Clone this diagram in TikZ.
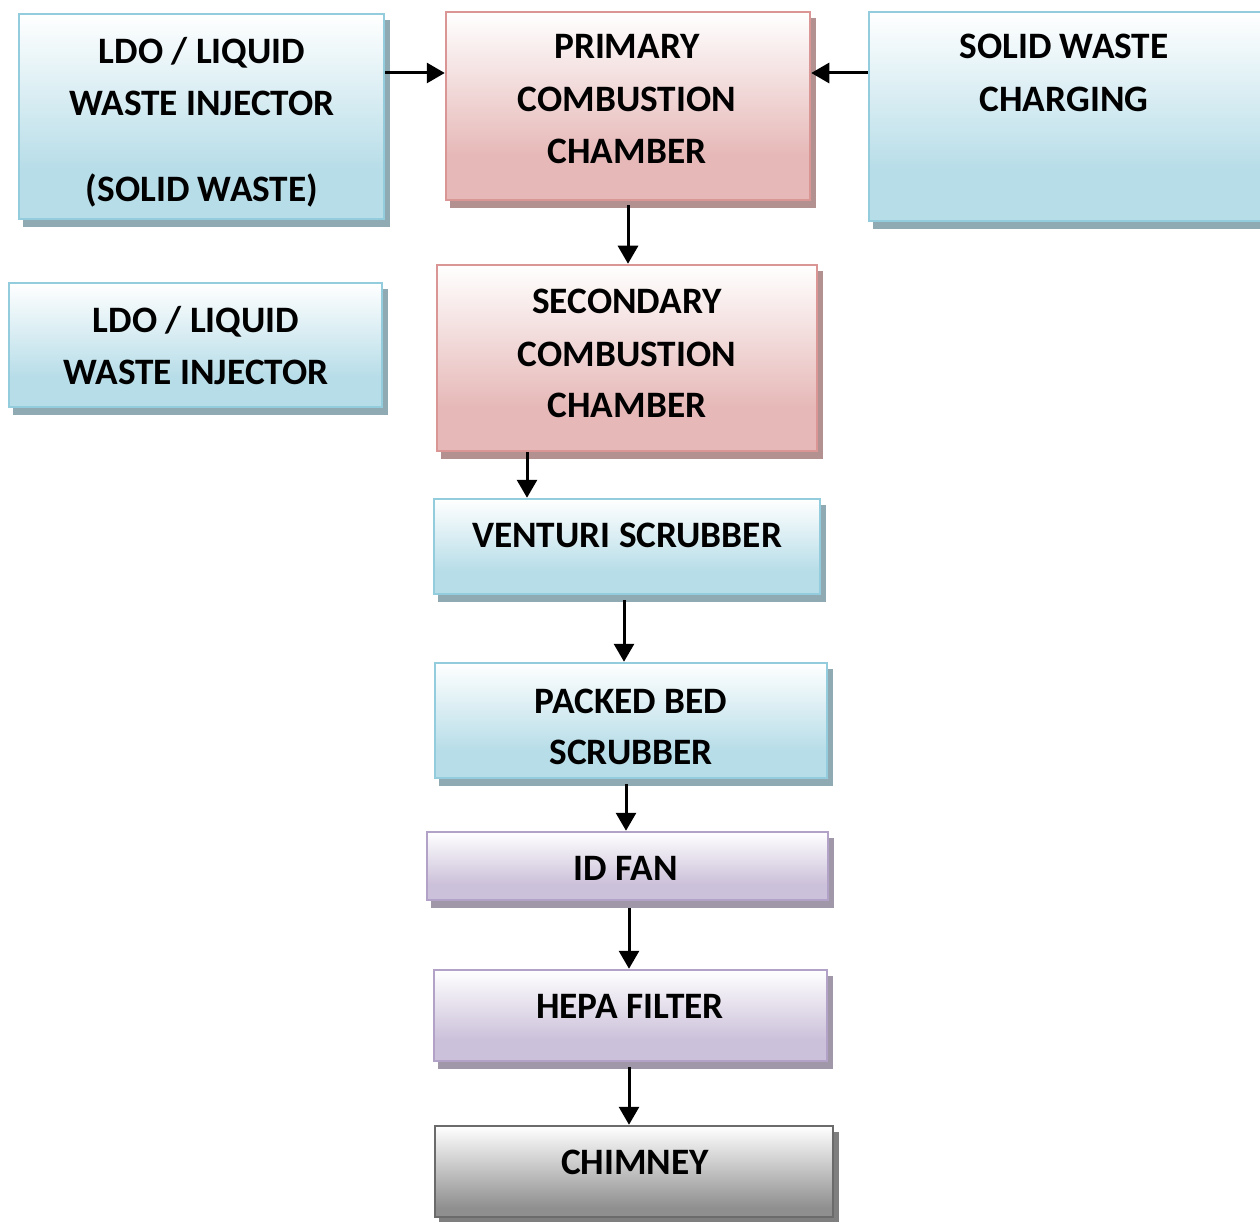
\documentclass[tikz,border=0pt]{standalone}
\usepackage{fontspec}
\setmainfont{Carlito}
\usetikzlibrary{arrows.meta,backgrounds}
\definecolor{bluebd}{HTML}{93CDDD}
\definecolor{bluebot}{HTML}{B7DDE8}
\definecolor{bluesh}{HTML}{8FAAB3}
\definecolor{redbd}{HTML}{D99694}
\definecolor{redbot}{HTML}{E6B9B8}
\definecolor{redsh}{HTML}{B39190}
\definecolor{purbd}{HTML}{B3A2C7}
\definecolor{purbot}{HTML}{CCC1DA}
\definecolor{pursh}{HTML}{A098A8}
\definecolor{graybd}{HTML}{6B6B6B}
\definecolor{graybot}{HTML}{8F8F8F}
\definecolor{graysh}{HTML}{7F7F7F}
\pgfdeclareverticalshading{blueshade}{100bp}{color(0bp)=(bluebot); color(37bp)=(bluebot); color(75bp)=(white); color(100bp)=(white)}
\pgfdeclareverticalshading{redshade}{100bp}{color(0bp)=(redbot); color(37bp)=(redbot); color(75bp)=(white); color(100bp)=(white)}
\pgfdeclareverticalshading{purshade}{100bp}{color(0bp)=(purbot); color(37bp)=(purbot); color(75bp)=(white); color(100bp)=(white)}
\pgfdeclareverticalshading{grayshade}{100bp}{color(0bp)=(graybot); color(30bp)=(graybot); color(75bp)=(white); color(100bp)=(white)}
\tikzset{
  boxbase/.style={rectangle, line width=2.5pt, inner sep=0pt},
  bluebox/.style={boxbase, draw=bluebd, shading=blueshade},
  redbox/.style={boxbase, draw=redbd, shading=redshade},
  purbox/.style={boxbase, draw=purbd, shading=purshade},
  graybox/.style={boxbase, draw=graybd, shading=grayshade},
  txt/.style={anchor=base, inner sep=0pt, font=\fontsize{37.3}{44}\selectfont\bfseries},
  arr/.style={-{Triangle[width=20pt,length=18pt]}, line width=3pt, black},
}
\newcommand{\shadowof}[2]{\fill[#2] ([shift={(5,7)}]#1.north west) rectangle ([shift={(5,7)}]#1.south east);}
\begin{document}
\begin{tikzpicture}[x=1pt,y=-1pt]
\useasboundingbox (0,0) rectangle (1260,1222);
\clip (0,0) rectangle (1260,1222);
% boxes
\node[bluebox, minimum width=365pt, minimum height=205pt] (ldoA) at (201.5,116.5) {};
\node[redbox, minimum width=364pt, minimum height=188pt] (prim) at (628,106) {};
\node[bluebox, minimum width=421pt, minimum height=209pt] (solid) at (1079.5,116.5) {};
\node[bluebox, minimum width=373pt, minimum height=124pt] (ldoB) at (195.5,345) {};
\node[redbox, minimum width=380pt, minimum height=186pt] (sec) at (627,358) {};
\node[bluebox, minimum width=386pt, minimum height=95pt] (vent) at (627,546.5) {};
\node[bluebox, minimum width=392pt, minimum height=115pt] (pack) at (631,720.5) {};
\node[purbox, minimum width=401pt, minimum height=68pt] (idfan) at (627.5,866) {};
\node[purbox, minimum width=393pt, minimum height=91pt] (hepa) at (630.5,1015.5) {};
\node[graybox, minimum width=398pt, minimum height=91pt] (chim) at (634,1171.5) {};
\begin{scope}[on background layer]
\shadowof{ldoA}{bluesh}
\shadowof{prim}{redsh}
\shadowof{solid}{bluesh}
\shadowof{ldoB}{bluesh}
\shadowof{sec}{redsh}
\shadowof{vent}{bluesh}
\shadowof{pack}{bluesh}
\shadowof{idfan}{pursh}
\shadowof{hepa}{pursh}
\shadowof{chim}{graysh}
\end{scope}
% texts
\node[txt] (tA1) at (202,63.5) {LDO / LIQUID};
\node[txt] (tA2) at (202,116) {WASTE INJECTOR};
\node[txt] (tA3) at (202,202) {(SOLID WASTE)};
\node[txt] (tP1) at (627,59) {PRIMARY};
\node[txt] (tP2) at (627,112) {COMBUSTION};
\node[txt] (tP3) at (627,164) {CHAMBER};
\node[txt] (tS1) at (1064,59) {SOLID WASTE};
\node[txt] (tS2) at (1064,112) {CHARGING};
\node[txt] (tB1) at (196,332) {LDO / LIQUID};
\node[txt] (tB2) at (196,384) {WASTE INJECTOR};
\node[txt] (tC1) at (627,314) {SECONDARY};
\node[txt] (tC2) at (627,366) {COMBUSTION};
\node[txt] (tC3) at (627,417) {CHAMBER};
\node[txt] (tV) at (627,547) {VENTURI SCRUBBER};
\node[txt] (tK1) at (631,713) {PACKED BED};
\node[txt] (tK2) at (631,764) {SCRUBBER};
\node[txt] (tI) at (626,880) {ID FAN};
\node[txt] (tH) at (630,1018) {HEPA FILTER};
\node[txt] (tCh) at (635,1174) {CHIMNEY};
% connectors
\coordinate (y73) at (0,73);
\coordinate (xa) at (628,0);
\coordinate (xb) at (527,0);
\coordinate (xc) at (624,0);
\coordinate (xd) at (626,0);
\coordinate (xe) at (629,0);
\draw[arr] (ldoA.east |- y73) -- (prim.west |- y73);
\draw[arr] (solid.west |- y73) -- (prim.east |- y73);
\draw[arr, shorten <=4pt] (prim.south -| xa) -- (sec.north -| xa);
\draw[arr] (sec.south -| xb) -- (vent.north -| xb);
\draw[arr, shorten <=5pt] (vent.south -| xc) -- (pack.north -| xc);
\draw[arr, shorten <=5pt] (pack.south -| xd) -- (idfan.north -| xd);
\draw[arr, shorten <=7pt] (idfan.south -| xe) -- (hepa.north -| xe);
\draw[arr, shorten <=5pt] (hepa.south -| xe) -- (chim.north -| xe);
\end{tikzpicture}
\end{document}
